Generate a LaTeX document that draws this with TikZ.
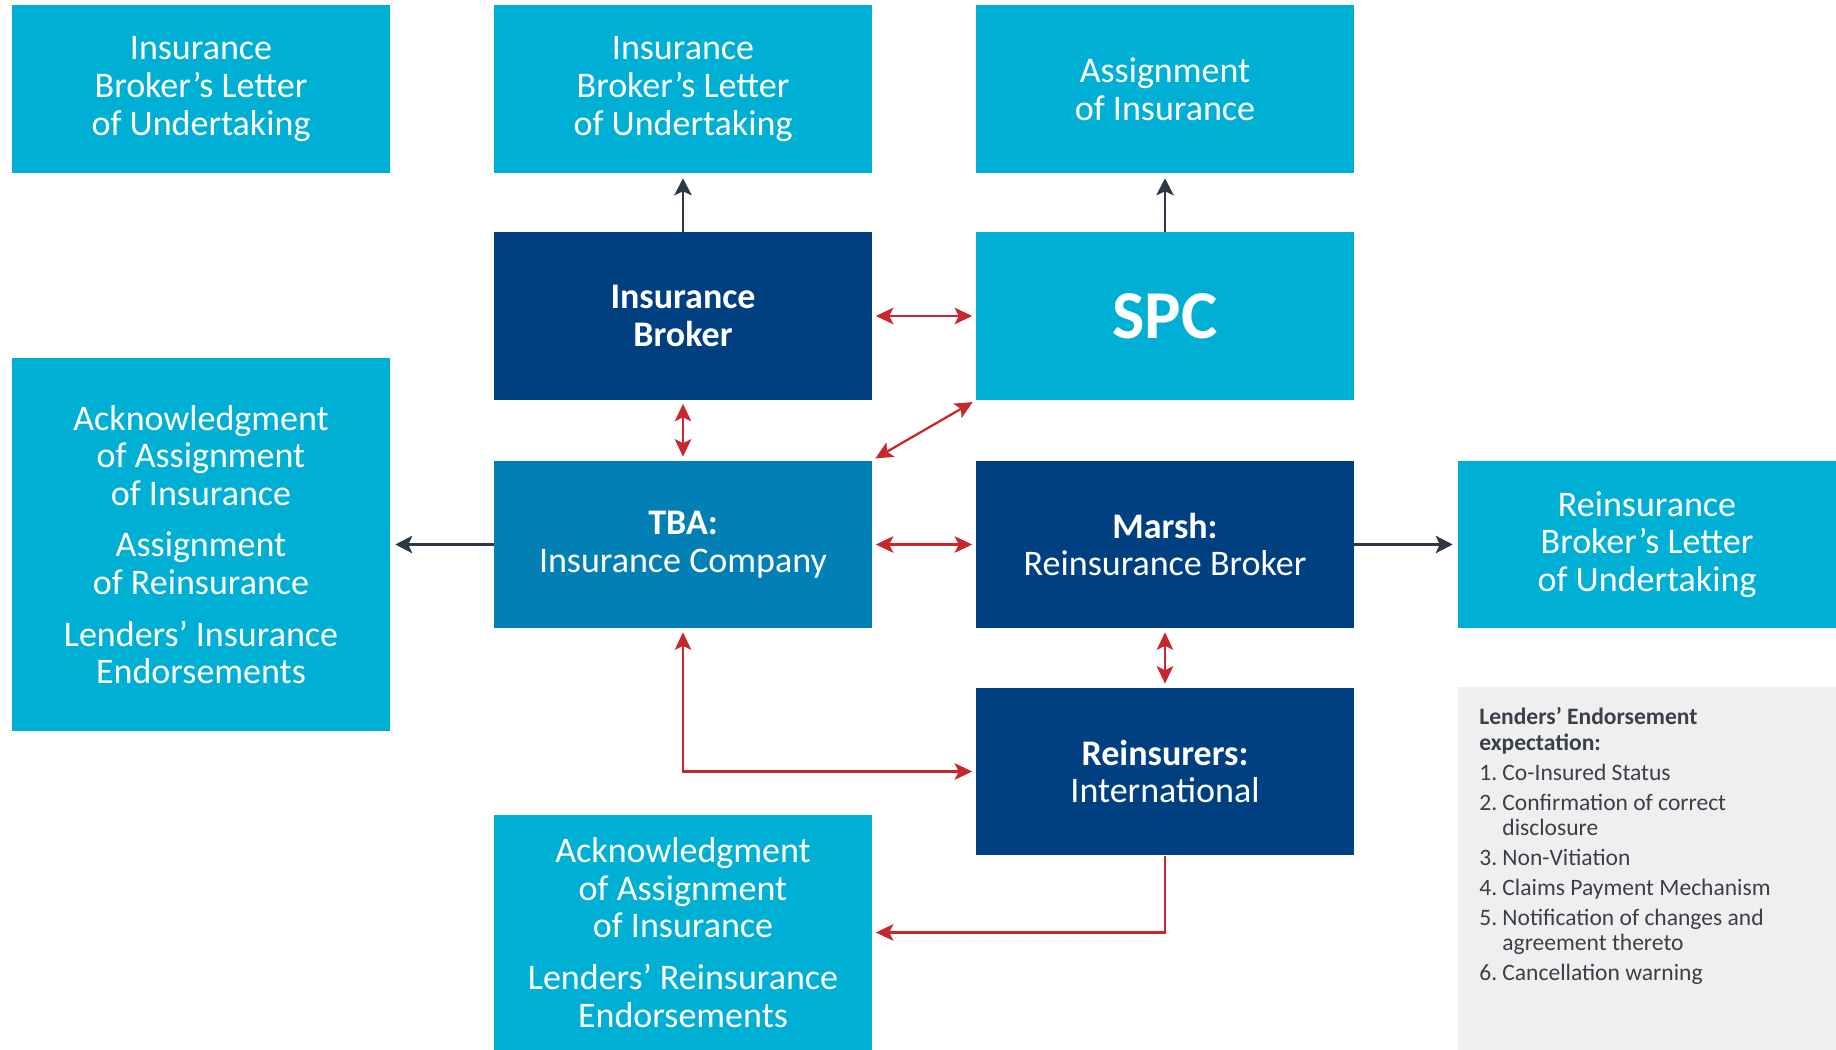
\documentclass[tikz,border=0pt]{standalone}
\usepackage{fontspec}
\setmainfont{Carlito}
\usetikzlibrary{arrows.meta,positioning}
\definecolor{docblue}{RGB}{0,176,212}
\definecolor{navy}{RGB}{0,64,128}
\definecolor{midblue}{RGB}{2,128,181}
\definecolor{linkred}{RGB}{200,40,45}
\definecolor{darkline}{RGB}{45,55,70}
\definecolor{notegray}{RGB}{239,239,239}
\definecolor{notetext}{RGB}{58,64,74}

\begin{document}
\begin{tikzpicture}[x=0.02cm, y=-0.02cm,
    docbox/.style={fill=#1, text=white, minimum width=7.56cm, minimum height=3.36cm,
      align=center, inner sep=0pt, font=\fontsize{20.5}{21.4}\selectfont},
    docbox/.default=docblue,
    twoway/.style={<->, >={Stealth[length=0.35cm,width=0.33cm,inset=0.08cm]},
      linkred, line width=1.3pt, shorten <=0.07cm, shorten >=0.07cm},
    oneway/.style={->, >={Stealth[length=0.34cm,width=0.35cm,inset=0.08cm]},
      darkline, line width=1.2pt, shorten >=0.1cm}]
  \useasboundingbox (0,0) rectangle (1836,1050);

  % Top row of documents
  \node[docbox] (brokerletterL) at (201,89) {Insurance\\Broker's Letter\\of Undertaking};
  \node[docbox] (brokerletter) at (683,89) {Insurance\\Broker's Letter\\of Undertaking};
  \node[docbox] (assignment) at (1165,89) {Assignment\\of Insurance};

  % Parties
  \node[docbox=navy] (broker) at (683,316) {\textbf{Insurance}\\\textbf{Broker}};
  \node[docbox, font=\fontsize{39}{40}\selectfont\bfseries] (spc) at (1165,316) {SPC};
  \node[docbox=midblue] (tba) at (683,544.5) {\textbf{TBA:}\\Insurance Company};
  \node[docbox=navy] (marsh) at (1165,544.5) {\textbf{Marsh:}\\Reinsurance Broker};
  \node[docbox=navy] (reins) at (1165,771.5) {\textbf{Reinsurers:}\\International};

  % Side and bottom documents
  \node[docbox, minimum height=7.46cm] (lenderdocs) at (201,544.5)
    {Acknowledgment\\of Assignment\\of Insurance\\[0.28cm]Assignment\\of Reinsurance\\[0.28cm]Lenders' Insurance\\Endorsements};
  \node[docbox] (reinsletter) at (1647,544.5) {Reinsurance\\Broker's Letter\\of Undertaking};
  \node[docbox, minimum height=4.7cm] (reinsdocs) at (683,932.5)
    {Acknowledgment\\of Assignment\\of Insurance\\[0.28cm]Lenders' Reinsurance\\Endorsements};

  % Endorsement note
  \node[fill=notegray, minimum width=7.56cm, minimum height=7.26cm, inner sep=0pt, anchor=north west] (note) at (1458,687) {};
  \node[anchor=north west, inner sep=0pt, text=notetext, font=\fontsize{13.4}{14.3}\selectfont] (notetext) at (1479,707)
    {\begin{tabular}{@{}r@{\hspace{0.22em}}l@{}}
      \multicolumn{2}{@{}l@{}}{\textbf{Lenders' Endorsement}}\\
      \multicolumn{2}{@{}l@{}}{\textbf{expectation:}}\\[2.8pt]
      1. & Co-Insured Status\\[2.8pt]
      2. & Confirmation of correct\\
         & disclosure\\[2.8pt]
      3. & Non-Vitiation\\[2.8pt]
      4. & Claims Payment Mechanism\\[2.8pt]
      5. & Notification of changes and\\
         & agreement thereto\\[2.8pt]
      6. & Cancellation warning
    \end{tabular}};

  % Connectors
  \draw[oneway] (broker) -- (brokerletter);
  \draw[oneway] (spc) -- (assignment);
  \draw[oneway] (tba) -- (lenderdocs);
  \draw[oneway] (marsh) -- (reinsletter);
  \draw[twoway] (broker) -- (spc);
  \draw[twoway] (broker) -- (tba);
  \draw[twoway] (tba.north east) -- (spc.south west);
  \draw[twoway] (tba) -- (marsh);
  \draw[twoway] (marsh) -- (reins);
  \draw[twoway] (tba) |- (reins);
  \draw[twoway, -, ->, shorten <=0pt] (reins) |- (reinsdocs);
\end{tikzpicture}
\end{document}
